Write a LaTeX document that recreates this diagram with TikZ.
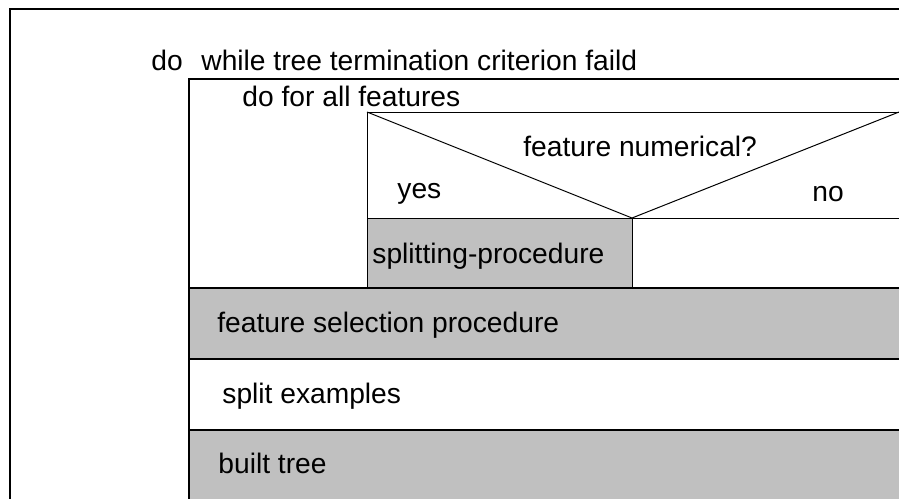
\documentclass[tikz,border=0pt]{standalone}
\usepackage{fontspec}
\setmainfont{Liberation Sans}
\definecolor{boxgray}{RGB}{192,192,192}
\begin{document}
\begin{tikzpicture}[x=0.5pt,y=-0.5pt,
  thick line/.style={line width=1pt},
  thin line/.style={line width=0.5pt},
  label/.style={inner sep=0pt,anchor=base west,font=\fontsize{14.1}{16}\selectfont}]
\clip (0,0) rectangle (899,498);
\fill[white] (0,0) rectangle (899,498);
% shaded blocks
\fill[boxgray] (367,218) rectangle (632,288);
\fill[boxgray] (189,288) rectangle (905,358);
\fill[boxgray] (189,429) rectangle (905,505);
% outer loop frame
\draw[thick line] (9.5,505) -- (9.5,8.5) -- (905,8.5);
% inner loop frame
\draw[thick line] (189,505) -- (189,78.5) -- (905,78.5);
% decision block
\draw[thin line] (367,288) -- (367,112) -- (905,112);
\draw[thin line] (367,218) -- (905,218);
\draw[thin line] (632,218) -- (632,288);
\draw[thin line] (367,112) -- (632,218) -- (899,112);
% separators between sequential steps
\draw[thick line] (189,288) -- (905,288);
\draw[thick line] (189,358.5) -- (905,358.5);
\draw[thick line] (189,429.5) -- (905,429.5);
% texts
\node[label] (do) at (151,70) {do};
\node[label] (while) at (201,70) {while tree termination criterion faild};
\node[label] (forall) at (242,106) {do for all features};
\node[label] (cond) at (523,156) {feature numerical?};
\node[label] (yes) at (397,198) {yes};
\node[label] (no) at (812,201) {no};
\node[label] (split) at (372,263) {splitting-procedure};
\node[label] (select) at (217,332) {feature selection procedure};
\node[label] (examples) at (222,403) {split examples};
\node[label] (tree) at (218,473) {built tree};
\end{tikzpicture}
\end{document}
